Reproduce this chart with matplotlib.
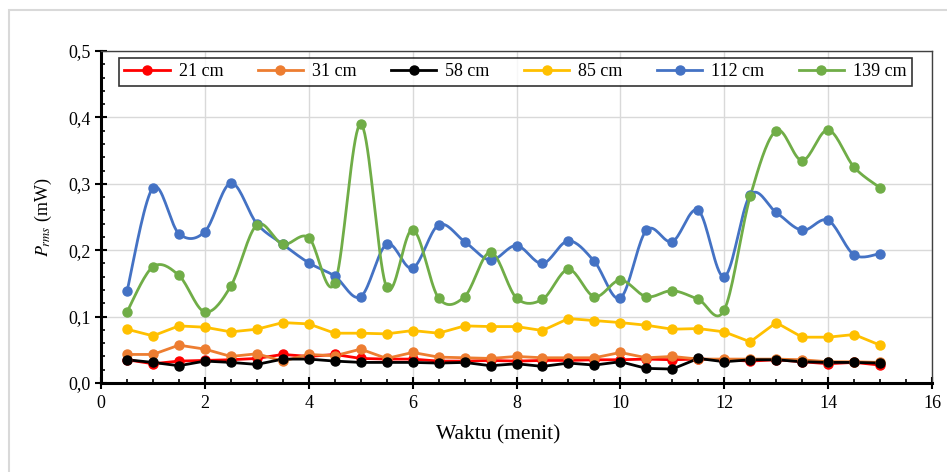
import numpy as np
import matplotlib.pyplot as plt
from matplotlib.ticker import MultipleLocator, FuncFormatter
from matplotlib.patches import Rectangle

plt.rcParams['font.family'] = ['Liberation Serif', 'DejaVu Serif']
plt.rcParams['mathtext.fontset'] = 'stix'

waktu = [0.5, 1.0, 1.5, 2.0, 2.5, 3.0, 3.5, 4.0, 4.5, 5.0,
         5.5, 6.0, 6.5, 7.0, 7.5, 8.0, 8.5, 9.0, 9.5, 10.0,
         10.5, 11.0, 11.5, 12.0, 12.5, 13.0, 13.5, 14.0, 14.5, 15.0]

p21 = [0.035, 0.029, 0.033, 0.034, 0.035, 0.037, 0.043, 0.040, 0.043, 0.037,
       0.036, 0.036, 0.033, 0.033, 0.034, 0.033, 0.034, 0.034, 0.035, 0.035,
       0.036, 0.035, 0.036, 0.035, 0.033, 0.035, 0.032, 0.029, 0.031, 0.027]
p31 = [0.043, 0.043, 0.057, 0.051, 0.040, 0.044, 0.033, 0.043, 0.041, 0.051,
       0.037, 0.046, 0.039, 0.038, 0.037, 0.040, 0.038, 0.038, 0.038, 0.046,
       0.038, 0.040, 0.036, 0.036, 0.036, 0.036, 0.035, 0.032, 0.032, 0.031]
p58 = [0.035, 0.031, 0.026, 0.033, 0.031, 0.028, 0.036, 0.036, 0.033, 0.031,
       0.031, 0.031, 0.030, 0.031, 0.026, 0.029, 0.025, 0.030, 0.027, 0.032,
       0.022, 0.021, 0.037, 0.032, 0.035, 0.035, 0.032, 0.031, 0.031, 0.030]
p85 = [0.081, 0.071, 0.086, 0.084, 0.077, 0.081, 0.091, 0.089, 0.075, 0.075,
       0.074, 0.079, 0.075, 0.086, 0.085, 0.085, 0.079, 0.097, 0.094, 0.091,
       0.087, 0.081, 0.082, 0.077, 0.062, 0.091, 0.069, 0.069, 0.073, 0.057]
p112 = [0.138, 0.294, 0.225, 0.228, 0.301, 0.240, 0.209, 0.181, 0.161, 0.130,
        0.209, 0.173, 0.238, 0.213, 0.185, 0.207, 0.180, 0.214, 0.183, 0.128,
        0.230, 0.213, 0.260, 0.160, 0.283, 0.257, 0.230, 0.245, 0.193, 0.195]
p139 = [0.107, 0.175, 0.162, 0.107, 0.146, 0.238, 0.209, 0.219, 0.150, 0.390,
        0.144, 0.231, 0.128, 0.130, 0.197, 0.128, 0.126, 0.171, 0.130, 0.155,
        0.130, 0.139, 0.126, 0.110, 0.281, 0.380, 0.335, 0.381, 0.325, 0.294]

labels = ['21 cm', '31 cm', '58 cm', '85 cm', '112 cm', '139 cm']
colors = ['#FF0000', '#ED7D31', '#000000', '#FFC000', '#4472C4', '#70AD47']
series = [p21, p31, p58, p85, p112, p139]
smooth = [False, False, False, False, True, True]


def catmull(x, y, n=20):
    # excel-like smoothed line through the points
    x = np.asarray(x, float)
    y = np.asarray(y, float)
    px = np.concatenate([[x[0]], x, [x[-1]]])
    py = np.concatenate([[y[0]], y, [y[-1]]])
    t = np.linspace(0, 1, n)
    xs, ys = [], []
    for i in range(1, len(px) - 2):
        p0, p1, p2, p3 = px[i-1], px[i], px[i+1], px[i+2]
        q0, q1, q2, q3 = py[i-1], py[i], py[i+1], py[i+2]
        b1x, b1y = p1 + (p2 - p0) / 6, q1 + (q2 - q0) / 6
        b2x, b2y = p2 - (p3 - p1) / 6, q2 - (q3 - q1) / 6
        xs.append((1-t)**3*p1 + 3*(1-t)**2*t*b1x + 3*(1-t)*t**2*b2x + t**3*p2)
        ys.append((1-t)**3*q1 + 3*(1-t)**2*t*b1y + 3*(1-t)*t**2*b2y + t**3*q2)
    return np.concatenate(xs), np.concatenate(ys)


fig = plt.figure(figsize=(9.47, 4.72), dpi=100)
fig.patches.append(Rectangle((9/947, -0.1), 1.2, 1.1 - 10/472, transform=fig.transFigure,
                             fill=False, edgecolor='#d9d9d9', linewidth=1.5))
ax = fig.add_axes([101/947, 1 - 383/472, 831/947, 332/472])

for vals, lab, c, sm in zip(series, labels, colors, smooth):
    if sm:
        sx, sy = catmull(waktu, vals)
        ax.plot(sx, sy, color=c, linewidth=2, zorder=3)
    else:
        ax.plot(waktu, vals, color=c, linewidth=2, zorder=3)
    ax.plot(waktu, vals, 'o', color=c, markersize=6.5, zorder=4)
    ax.plot([], [], '-o', color=c, linewidth=2, markersize=6.5, label=lab)

ax.set_xlim(0, 16)
ax.set_ylim(0, 0.5)
ax.xaxis.set_major_locator(MultipleLocator(2))
ax.xaxis.set_minor_locator(MultipleLocator(0.5))
ax.yaxis.set_major_locator(MultipleLocator(0.1))
ax.yaxis.set_minor_locator(MultipleLocator(0.02))
ax.yaxis.set_major_formatter(FuncFormatter(lambda v, p: ('%.1f' % v).replace('.', ',')))
ax.grid(True, which='major', color='#d9d9d9', linewidth=1, zorder=0)
ax.set_axisbelow(True)

for s in ['left', 'bottom']:
    ax.spines[s].set_linewidth(2.2)
    ax.spines[s].set_color('black')
for s in ['top', 'right']:
    ax.spines[s].set_linewidth(1)
    ax.spines[s].set_color('#404040')

ax.tick_params(which='major', direction='inout', length=8, width=1.5, labelsize=13)
ax.tick_params(which='minor', direction='in', length=3, width=1.2)
ax.tick_params(axis='x', which='major', pad=5)

ax.set_xlabel('Waktu (menit)', fontsize=15.5, labelpad=9, x=0.478)
ax.set_ylabel(r'$P_{rms}$ (mW)', fontsize=13, labelpad=10)

leg = ax.legend(loc='upper left', bbox_to_anchor=(18/831, 0.889, 793/831, 0.09), mode='expand',
                ncol=6, fontsize=13, frameon=True, fancybox=False, borderaxespad=0,
                handlelength=2.5, handletextpad=0.5, borderpad=0.3)
leg.get_frame().set_edgecolor('black')
leg.get_frame().set_linewidth(1.2)

plt.savefig('out.png', dpi=100)
